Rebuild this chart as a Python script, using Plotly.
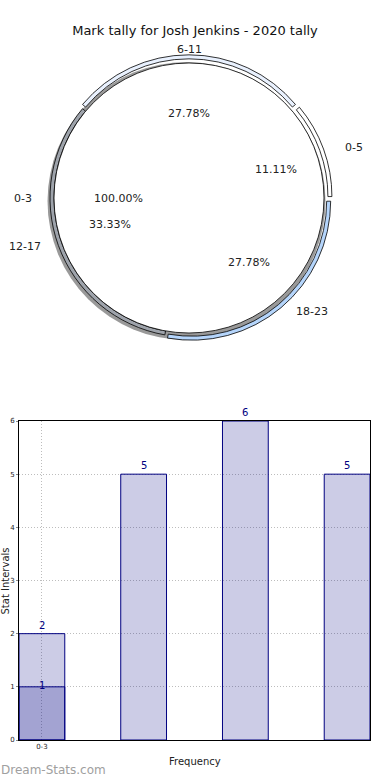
import math
import plotly.graph_objects as go

# ---- data ----
title = "Mark tally for Josh Jenkins - 2020 tally"
inner_labels = ["0-3"]
inner_values = [1]
outer_labels = ["0-5", "6-11", "12-17", "18-23"]
outer_colors = ["#ffffff", "#e9f1fe", "#9ea3ab", "#b5d5fb"]
outer_values = [2, 5, 6, 5]
outer_pull = [0.03, 0.03, 0.0, 0.03]

bar_positions = [0, 1, 2, 3]
bar_values = [2, 5, 6, 5]
overlay_positions = [0]
overlay_values = [1]
tick_vals = [0]
tick_text = ["0-3"]

W, H = 390, 780
CX, CY = 189, 198          # pie centre in pixels
R_IN = 135                 # inner pie radius (px)
R_OUT = 139                # ring outer radius (px)

def px_dom(cx, cy, half):
    return dict(x=[(cx - half) / W, (cx + half) / W],
                y=[1 - (cy + half) / H, 1 - (cy - half) / H])

fig = go.Figure()

# shadow
fig.add_trace(go.Pie(labels=["s"], values=[1], sort=False, textinfo="none",
                     hoverinfo="skip", showlegend=False,
                     marker=dict(colors=["rgba(0,0,0,0.4)"], line=dict(width=0)),
                     domain=px_dom(CX - 2.5, CY + 3, R_OUT)))

# outer ring: matplotlib-style start at 3 o'clock, counterclockwise
first_share = 360 * outer_values[0] / sum(outer_values)
fig.add_trace(go.Pie(labels=outer_labels, values=outer_values, sort=False,
                     direction="counterclockwise", rotation=90 - first_share,
                     hole=R_IN / R_OUT, pull=outer_pull, textinfo="none",
                     showlegend=False,
                     marker=dict(colors=outer_colors, line=dict(color="black", width=0.8)),
                     domain=px_dom(CX, CY, R_OUT * (1 + max(outer_pull)))))

# inner pie
fig.add_trace(go.Pie(labels=inner_labels, values=inner_values, sort=False,
                     textinfo="none", showlegend=False,
                     marker=dict(colors=["#ffffff"], line=dict(color="black", width=0.8)),
                     domain=px_dom(CX, CY, R_IN)))

annotations = []
RX, RY = 141, 128
def to_paper(x, y):
    return x / W, 1 - y / H

def pie_texts(labels, values, pulls, pct_d):
    total = sum(values)
    start = 0.0
    for lab, v, p in zip(labels, values, pulls):
        ang = start + 360 * v / total / 2
        start += 360 * v / total
        c, s = math.cos(math.radians(ang)), math.sin(math.radians(ang))
        px, py = to_paper(CX + (pct_d + p) * RX * c, CY - (pct_d + p) * RY * s)
        annotations.append(dict(x=px, y=py, xref="paper", yref="paper",
                                xanchor="center", yanchor="middle",
                                text=f"{100 * v / total:.2f}%", showarrow=False,
                                font=dict(size=11, color="#222")))
        lx, ly = to_paper(CX + (1.1 + p) * RX * c, CY - (1.1 + p) * RY * s)
        annotations.append(dict(x=lx, y=ly, xref="paper", yref="paper", text=lab,
                                showarrow=False, yanchor="middle",
                                xanchor="left" if c > 0.01 else ("right" if c < -0.01 else "center"),
                                font=dict(size=11, color="#222")))

pie_texts(outer_labels, outer_values, [p * 2 for p in outer_pull], 0.6)
pie_texts(inner_labels, inner_values, [0.0], 0.5)

# ---- bars ----
bar_color = "rgba(0,0,128,0.2)"
fig.add_trace(go.Bar(x=bar_positions, y=bar_values, width=0.45, showlegend=False,
                     marker=dict(color=bar_color, line=dict(color="#000080", width=1)),
                     xaxis="x", yaxis="y"))
fig.add_trace(go.Bar(x=overlay_positions, y=overlay_values, width=0.45, showlegend=False,
                     marker=dict(color=bar_color, line=dict(color="#000080", width=1)),
                     xaxis="x", yaxis="y"))

for x, v in zip(bar_positions, bar_values):
    annotations.append(dict(x=x, y=v, xref="x", yref="y", text=str(v), showarrow=False,
                            xanchor="center", yanchor="bottom", yshift=1,
                            font=dict(size=10, color="#000080")))
for x, v in zip(overlay_positions, overlay_values):
    annotations.append(dict(x=x, y=v, xref="x", yref="y", text=str(v), showarrow=False,
                            xanchor="center", yanchor="middle", yshift=1,
                            font=dict(size=10, color="#000080")))

annotations.append(dict(x=0, y=1 - 770 / H, xref="paper", yref="paper", text="Dream-Stats.com",
                        showarrow=False, xanchor="left", yanchor="middle", xshift=-1,
                        font=dict(size=12, color="#a0a0a0")))
annotations.append(dict(x=0.0, y=1 - 581 / H, xref="paper", yref="paper",
                        text="Stat Intervals", textangle=-90, showarrow=False,
                        xanchor="left", yanchor="middle", xshift=-3,
                        font=dict(size=10, color="#222")))
annotations.append(dict(x=(19 + 370) / 2 / W, y=1 - 761 / H, xref="paper", yref="paper",
                        text="Frequency", showarrow=False, xanchor="center", yanchor="middle",
                        font=dict(size=10, color="#222")))

grid = dict(showgrid=True, gridcolor="#bdbdbd", griddash="1px,2px", gridwidth=1,
            showline=True, mirror=True, linecolor="black", linewidth=1, zeroline=False)

fig.update_layout(
    width=W, height=H, margin=dict(l=0, r=0, t=0, b=0, autoexpand=False),
    paper_bgcolor="white", plot_bgcolor="white",
    font=dict(family="DejaVu Sans", color="#222"),
    title=dict(text=title, x=0.5, xanchor="center", y=1 - 30 / H, yanchor="middle",
               font=dict(size=13, color="#111")),
    barmode="overlay",
    xaxis=dict(domain=[19 / W, 370 / W], range=[-0.225, 3.225],
               tickvals=tick_vals, ticktext=tick_text, tickfont=dict(size=7),
               ticks="", **grid),
    yaxis=dict(domain=[40 / H, 359 / H], range=[0, 6], dtick=1, tickfont=dict(size=7),
               ticks="outside", ticklen=2, tickcolor="#888", **grid),
    annotations=annotations,
)

fig.write_html("out.html", config={"displayModeBar": False},
               post_script="document.body.style.margin='0';")
